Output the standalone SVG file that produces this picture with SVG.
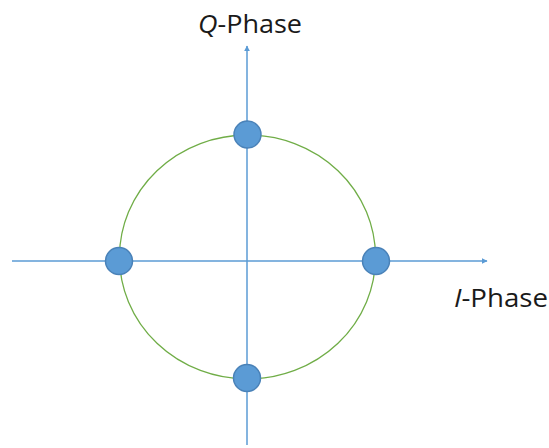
<svg xmlns="http://www.w3.org/2000/svg" width="549" height="448" viewBox="0 0 549 448">
<style>
.axis{stroke:#5B9BD5;stroke-width:1.5;fill:none}
.dot{fill:#5B9BD5;stroke:#4A82B8;stroke-width:1.5}
.lbl{font-family:"Open Sans","Liberation Sans",sans-serif;font-size:25px;fill:#1a1a1a}
</style>
<defs>
<marker id="ah" viewBox="0 0 10 10" refX="9" refY="5" markerWidth="6" markerHeight="6" orient="auto" markerUnits="userSpaceOnUse">
<path d="M0,0 L10,5 L0,10 z" fill="#5B9BD5"/>
</marker>
</defs>
<rect width="549" height="448" fill="#fff"/>
<g id="circle">
<ellipse cx="247.5" cy="257" rx="128" ry="122" fill="none" stroke="#70AD47" stroke-width="1.3"/>
</g>
<g id="connectors">
<line class="axis" x1="12" y1="261" x2="487" y2="261" marker-end="url(#ah)"/>
<line class="axis" x1="247" y1="445" x2="247" y2="46" marker-end="url(#ah)"/>
</g>
<g id="dot-top"><circle class="dot" cx="247.5" cy="134.5" r="13.5"/></g>
<g id="dot-left"><circle class="dot" cx="119" cy="261" r="13.5"/></g>
<g id="dot-right"><circle class="dot" cx="376" cy="261" r="13.5"/></g>
<g id="dot-bottom"><circle class="dot" cx="247" cy="378" r="13.5"/></g>
<g id="label-q"><text class="lbl" x="198" y="33" textLength="104" lengthAdjust="spacingAndGlyphs"><tspan font-style="italic">Q</tspan>-Phase</text></g>
<g id="label-i"><text class="lbl" x="454" y="307" textLength="94" lengthAdjust="spacingAndGlyphs"><tspan font-style="italic">I</tspan>-Phase</text></g>
</svg>
